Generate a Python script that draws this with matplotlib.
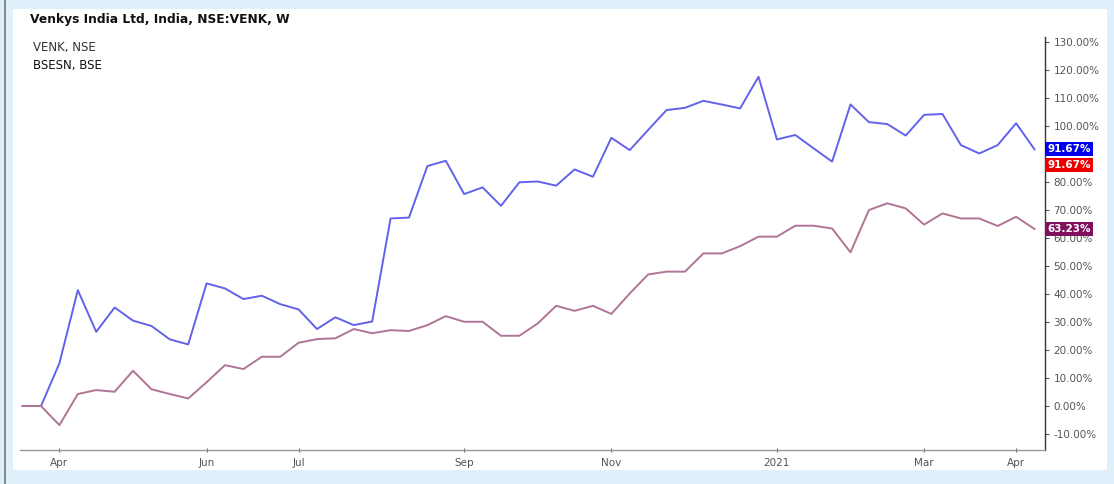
import numpy as np
import pandas as pd
import matplotlib
matplotlib.use('Agg')
import matplotlib.pyplot as plt
from matplotlib.patches import Rectangle
from matplotlib.ticker import FuncFormatter

plt.rcParams['font.family'] = ['DejaVu Sans']

# donnees hebdomadaires (lundi), variation en %
dates = pd.date_range('2020-03-23', periods=56, freq='7D')

venk = [0.0, 0.0, 15.3, 41.4, 26.5, 35.2, 30.5, 28.6, 23.8, 22.0,
        43.8, 42.0, 38.2, 39.4, 36.4, 34.5, 27.5, 31.7, 28.9, 30.2,
        67.0, 67.3, 85.7, 87.6, 75.7, 78.1, 71.5, 79.9, 80.2, 78.7,
        84.5, 81.9, 95.8, 91.4, 98.6, 105.7, 106.5, 109.0, 107.7, 106.3,
        117.6, 95.2, 96.8, 92.0, 87.3, 107.7, 101.4, 100.7, 96.6, 104.0,
        104.3, 93.2, 90.2, 93.2, 101.0, 91.67]

bsesn = [0.0, 0.0, -6.8, 4.3, 5.7, 5.1, 12.6, 6.0, 4.3, 2.7,
         8.5, 14.6, 13.2, 17.6, 17.6, 22.6, 23.9, 24.2, 27.5, 26.0,
         27.1, 26.8, 28.9, 32.1, 30.1, 30.1, 25.1, 25.1, 29.5, 35.8,
         34.0, 35.8, 32.9, 40.2, 47.0, 48.0, 48.0, 54.5, 54.5, 57.1,
         60.5, 60.5, 64.4, 64.4, 63.4, 54.9, 70.0, 72.4, 70.6, 64.8,
         68.8, 67.0, 67.0, 64.3, 67.6, 63.23]

tick_dates = pd.to_datetime(['2020-04-06', '2020-06-01', '2020-07-06', '2020-09-07',
                             '2020-11-02', '2021-01-04', '2021-03-01', '2021-04-05'])
tick_labels = ['Apr', 'Jun', 'Jul', 'Sep', 'Nov', '2021', 'Mar', 'Apr']

W, H = 1114, 484
fig = plt.figure(figsize=(W / 100, H / 100), dpi=100)
fig.patch.set_facecolor('#dff0fb')

# panneau blanc + bordure gauche
fig.patches.append(Rectangle((13 / W, 1 - 470 / H), 1094 / W, 461 / H,
                             transform=fig.transFigure, facecolor='white',
                             edgecolor='none', zorder=-10))
fig.add_artist(plt.Line2D([4.5 / W, 4.5 / W], [0, 1], transform=fig.transFigure,
                          color='#777777', lw=1.2, zorder=-5))

ax = fig.add_axes([20 / W, 1 - 450 / H, 1025 / W, 413 / H])
ax.set_zorder(1)
ax.set_facecolor('white')

ax.plot(dates, venk, color='#6262ea', lw=1.4)
ax.plot(dates, bsesn, color='#b07496', lw=1.4)

ax.set_ylim(-15.7, 131.8)
ax.set_xlim(dates[0] - pd.Timedelta(days=1), dates[0] + pd.Timedelta(days=389))

# le 90% est cache par les etiquettes de valeur
ax.yaxis.tick_right()
ax.set_yticks(np.arange(-10, 131, 10))
ax.yaxis.set_major_formatter(FuncFormatter(lambda v, p: '' if round(v) == 90 else '%.2f%%' % v))
ax.set_xticks(tick_dates)
ax.set_xticklabels(tick_labels)

ax.tick_params(axis='y', labelsize=7.5, labelcolor='#555555', color='#555555',
               length=3, width=0.8, pad=3)
ax.tick_params(axis='x', labelsize=7.5, labelcolor='#555555', color='#666666',
               length=3, width=0.8, direction='inout', pad=4)

for s in ['left', 'top']:
    ax.spines[s].set_visible(False)
ax.spines['right'].set_color('#333333')
ax.spines['right'].set_linewidth(1.0)
ax.spines['bottom'].set_color('#999999')
ax.spines['bottom'].set_linewidth(1.0)

# titre et legende
fig.text(30 / W, 1 - 20 / H, 'Venkys India Ltd, India, NSE:VENK, W',
         fontsize=8.8, fontweight='bold', color='#111111', va='center')
fig.text(33 / W, 1 - 48 / H, 'VENK, NSE', fontsize=8.5, color='#333333', va='center')
fig.text(33 / W, 1 - 66 / H, 'BSESN, BSE', fontsize=8.5, color='#111111', va='center')

# etiquettes de derniere valeur
def etiquette(val, bg, dy=0):
    ax.annotate('%.2f%%' % val, xy=(1, val), xycoords=('axes fraction', 'data'),
                xytext=(1.5, dy), textcoords='offset points', va='center', ha='left',
                fontsize=7.5, fontweight='bold', color='white',
                bbox=dict(boxstyle='square,pad=0.2', fc=bg, ec='none'),
                annotation_clip=False, zorder=5)

etiquette(venk[-1], '#0000ee')
etiquette(venk[-1], '#ee0000', dy=-11)
etiquette(bsesn[-1], '#80105e')

plt.savefig('out.png', dpi=100, facecolor=fig.get_facecolor())
